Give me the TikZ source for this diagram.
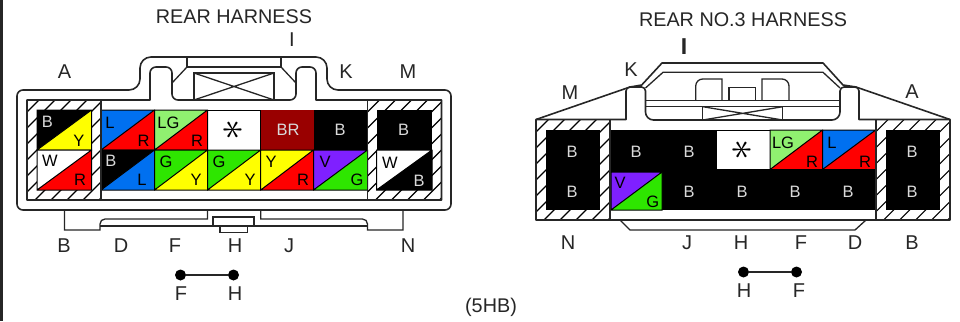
\documentclass[tikz,border=0pt]{standalone}
\usepackage{fontspec}
\setmainfont{Liberation Sans}
\usetikzlibrary{positioning}

\definecolor{wireblue}{HTML}{0070F0}
\definecolor{wirered}{HTML}{FF0000}
\definecolor{wireyellow}{HTML}{FFFF00}
\definecolor{wiregreen}{HTML}{2EE600}
\definecolor{wirelg}{HTML}{90F070}
\definecolor{wireviolet}{HTML}{7F20FF}
\definecolor{wirebr}{HTML}{990000}

% x1 y1 x2 y2, upper left colour, lower right colour
\newcommand{\twotone}[6]{
  \fill[#5] (#1,#2) -- (#3,#2) -- (#1,#4) -- cycle;
  \fill[#6] (#3,#2) -- (#3,#4) -- (#1,#4) -- cycle;
  \draw[cell line] (#1,#2) rectangle (#3,#4) (#3,#2) -- (#1,#4);
}
% x1 y1 x2 y2 of the hatched frame, then x1 y1 x2 y2 of its opening
\newcommand{\hatchframe}[8]{
  \begin{scope}
    \clip (#1,#2) rectangle (#3,#4);
    \foreach \s in {-120,-104,...,120}
      \draw[hatch line] (#1+\s,#4) -- ++(120,-120);
  \end{scope}
  \fill[white] (#5,#6) rectangle (#7,#8);
}

\begin{document}
\begin{tikzpicture}[x=1pt,y=-1pt,
  body line/.style={line width=1.6pt,black!85,line join=round},
  thin body/.style={line width=1.3pt,black!85},
  cell line/.style={line width=1pt,black},
  hatch line/.style={line width=1.1pt,black},
  title label/.style={font=\fontsize{19.8}{21}\selectfont,inner sep=0pt,black!85},
  pin label/.style={font=\fontsize{20}{21}\selectfont,inner sep=0pt,black!85},
  wire label/.style={font=\fontsize{16.5}{17}\selectfont,inner sep=0pt},
  white label/.style={wire label,white!85!black},
  star label/.style={font=\fontsize{24}{24}\selectfont,inner sep=0pt,rotate=90,scale=1.7,transform shape},
  link dot/.style={circle,fill=black,inner sep=0pt,minimum size=11pt}]

  \useasboundingbox (0,0) rectangle (960,321);
  \fill[black!85] (0,0) rectangle (2.5,321);

  % left connector, cells
  \hatchframe{27}{100}{101}{200}{37}{110}{91.5}{190}
  \hatchframe{367.5}{100}{441.5}{200}{376.5}{110}{432}{190}
  \twotone{37}{110}{91.5}{150}{black}{wireyellow}
  \twotone{37}{150}{91.5}{190}{white}{wirered}
  \twotone{101}{110}{154.5}{150}{wireblue}{wirered}
  \twotone{154.5}{110}{207.5}{150}{wirelg}{wirered}
  \draw[cell line] (207.5,110) rectangle (260.7,150);
  \fill[wirebr] (260.7,110) rectangle (313.5,150);
  \fill[black] (313.5,110) rectangle (367.5,150);
  \fill[black] (376.5,110) rectangle (432,150);
  \twotone{376.5}{150}{432}{190}{white}{black}
  \twotone{101}{150}{154.5}{190}{black}{wireblue}
  \twotone{154.5}{150}{207.5}{190}{wiregreen}{wireyellow}
  \twotone{207.5}{150}{260.7}{190}{wiregreen}{wireyellow}
  \twotone{260.7}{150}{313.5}{190}{wireyellow}{wirered}
  \twotone{313.5}{150}{367.5}{190}{wireviolet}{wiregreen}

  % left connector, shell
  \draw[body line] (17,150) [rounded corners=6pt] -- (17,90) [rounded corners=11pt] -- (140,90) -- (140,57)
    -- (327,57) -- (327,90) [rounded corners=6pt] -- (451,90) -- (451,210) -- (17,210) -- cycle;
  \draw[body line] (27,100) -- (150,100) [rounded corners=6pt] -- (150,67) -- (172,67) -- (172,100)
    -- (296,100) -- (296,67) -- (316,67) [sharp corners] -- (316,100) -- (441.5,100) -- (441.5,200) -- (27,200) -- cycle;
  \draw[thin body] (187,57) -- (187,67) -- (281,67) -- (281,57);
  \draw[thin body] (187,67) -- (172,83) (281,67) -- (296,83);
  \draw[thin body] (194,100) -- (194,73) -- (274,73) -- (274,100);
  \draw[thin body] (194,73) -- (274,100) (194,100) -- (274,73);
  \draw[body line] (101,100) -- (101,200) (367.5,100) -- (367.5,200);

  % left connector, bottom tabs
  \draw[thin body] (64.5,210) -- (64.5,230) -- (100,230) [rounded corners=5pt] -- (100,219) [sharp corners] -- (207.5,219) -- (207.5,210);
  \draw[thin body] (100,226) -- (213,226) -- (213,217) -- (254,217) -- (254,226) -- (367.5,226) (213,226) -- (254,226);
  \draw[thin body] (220,226) -- (220,232.5) -- (247.5,232.5) -- (247.5,226);
  \draw[thin body] (403,210) -- (403,230) -- (367.5,230) [rounded corners=5pt] -- (367.5,219) [sharp corners] -- (260.7,219) -- (260.7,210);

  \node[white label] (lb1) at (47.5,122) {B};
  \node[wire label] (ly1) at (79,141) {Y};
  \node[wire label] (lw1) at (50,161) {W};
  \node[wire label] (lr1) at (80,180) {R};
  \node[wire label] (ll1) at (110,123) {L};
  \node[wire label] (lr2) at (143.5,141) {R};
  \node[wire label] (llg1) at (168.5,123) {LG};
  \node[wire label] (lr3) at (197,141) {R};
  \node[star label] (lstar) at (234,130) {$\ast$};
  \node[white label] (lbr) at (288,130) {BR};
  \node[white label] (lb2) at (340,130) {B};
  \node[white label] (lb3) at (403.5,130) {B};
  \node[white label] (lb4) at (111,161) {B};
  \node[wire label] (ll2) at (142,180) {L};
  \node[wire label] (lg1) at (166,162) {G};
  \node[wire label] (ly2) at (196,180) {Y};
  \node[wire label] (lg2) at (219,162) {G};
  \node[wire label] (ly3) at (250,180) {Y};
  \node[wire label] (ly4) at (271,162) {Y};
  \node[wire label] (lr4) at (303,180) {R};
  \node[wire label] (lv1) at (325,162) {V};
  \node[wire label] (lg3) at (357,180) {G};
  \node[wire label] (lw2) at (390,163) {W};
  \node[white label] (lb5) at (419,181) {B};

  % left connector, names round it
  \node[title label] (ltitle) at (234,17) {REAR HARNESS};
  \node[pin label] (lpA) at (64.5,72) {A};
  \node[pin label] (lpI) at (292,40) {I};
  \node[pin label] (lpK) at (346,72) {K};
  \node[pin label] (lpM) at (408,72) {M};
  \node[pin label] (lpB) at (64,246) {B};
  \node[pin label] (lpD) at (121,246) {D};
  \node[pin label] (lpF) at (175,246) {F};
  \node[pin label] (lpH) at (235,246) {H};
  \node[pin label] (lpJ) at (289,246) {J};
  \node[pin label] (lpN) at (408,246) {N};

  \node[link dot] (ld1) at (180.5,275) {};
  \node[link dot] (ld2) at (233.5,275) {};
  \path (ld1) edge[thin body] (ld2);
  \node[pin label] (lf) at (181,294) {F};
  \node[pin label] (lh) at (235,294) {H};

  % right connector, cells
  \hatchframe{536}{119.5}{610}{220}{546}{129.5}{600}{210}
  \hatchframe{875.7}{119.5}{950}{220}{886}{129.5}{940}{210}
  \fill[black] (546,129.5) rectangle (600,210);
  \fill[black] (886,129.5) rectangle (940,210);
  \fill[black] (610,129.5) rectangle (875.7,210);
  \fill[white] (716.7,130.5) rectangle (770,169);
  \twotone{770}{130}{822.5}{169.5}{wirelg}{wirered}
  \twotone{822.5}{130}{875.7}{169.5}{wireblue}{wirered}
  \twotone{611}{172}{662}{210}{wireviolet}{wiregreen}

  % right connector, shell
  \draw[body line] (536,119.5) -- (630,87) -- (641.7,85) -- (662,63) -- (823,63) -- (843,85)
    -- (856,87) -- (950,119.5) -- (950,220) -- (536,220) -- cycle;
  \draw[body line] (536,119.5) -- (626,119.5) [rounded corners=4pt] -- (626,87) -- (645.5,87)
    [rounded corners=8pt] -- (645.5,120) -- (840,120) [rounded corners=4pt] -- (840,87) -- (859,87)
    [sharp corners] -- (859,119.5) -- (950,119.5);
  \draw[thin body] (645.5,88) -- (663,72.3) -- (823,72.3) -- (840,88);
  \draw[thin body] (645.5,100.7) -- (840,100.7) (645.5,106.7) -- (840,106.7);
  \draw[thin body] (695.7,100.7) [rounded corners=7pt] -- (695.7,79) [sharp corners] -- (722,79) -- (722,100.7);
  \draw[thin body] (729,100.7) -- (729,87.3) -- (755.7,87.3) -- (755.7,100.7);
  \draw[thin body] (762,100.7) -- (762,79) [rounded corners=7pt] -- (789,79) [sharp corners] -- (789,100.7);
  \draw[thin body] (702.7,106.7) rectangle (782.7,120);
  \draw[thin body] (702.7,106.7) -- (782.7,120) (702.7,120) -- (782.7,106.7);
  \draw[body line] (610,119.5) -- (610,220) (875.7,119.5) -- (875.7,220);
  \draw[thin body] (620,220) -- (630,230) -- (855,230) -- (866,220);

  \node[white label] (rb1) at (572,152) {B};
  \node[white label] (rb2) at (572,191.5) {B};
  \node[white label] (rb3) at (636,152) {B};
  \node[white label] (rb4) at (689,152) {B};
  \node[star label] (rstar) at (743,150) {$\ast$};
  \node[wire label] (rlg1) at (783,143) {LG};
  \node[wire label] (rr1) at (812,162) {R};
  \node[wire label] (rl1) at (832,143) {L};
  \node[wire label] (rr2) at (865,162) {R};
  \node[white label] (rb5) at (912,152) {B};
  \node[white label] (rb6) at (912,191.5) {B};
  \node[wire label] (rv1) at (620,183) {V};
  \node[wire label] (rg1) at (652.7,202) {G};
  \node[white label] (rb7) at (689,191.5) {B};
  \node[white label] (rb8) at (742,191.5) {B};
  \node[white label] (rb9) at (795,191.5) {B};
  \node[white label] (rb10) at (848,191.5) {B};

  % right connector, names round it
  \node[title label] (rtitle) at (743,20) {REAR NO.3 HARNESS};
  \node[pin label,font=\fontsize{23}{24}\selectfont\bfseries] (rpI) at (684,47) {I};
  \node[pin label] (rpK) at (631,70) {K};
  \node[pin label] (rpM) at (570,93) {M};
  \node[pin label] (rpA) at (912,92) {A};
  \node[pin label] (rpN) at (568,243) {N};
  \node[pin label] (rpJ) at (687,243) {J};
  \node[pin label] (rpH) at (741,243) {H};
  \node[pin label] (rpF) at (801,243) {F};
  \node[pin label] (rpD) at (855,243) {D};
  \node[pin label] (rpB) at (912,243) {B};

  \node[link dot] (rd1) at (743.5,272) {};
  \node[link dot] (rd2) at (796.5,272) {};
  \path (rd1) edge[thin body] (rd2);
  \node[pin label] (rh) at (744,291) {H};
  \node[pin label] (rf) at (799,291) {F};

  \node[title label] (code) at (491,307) {(5HB)};
\end{tikzpicture}
\end{document}
